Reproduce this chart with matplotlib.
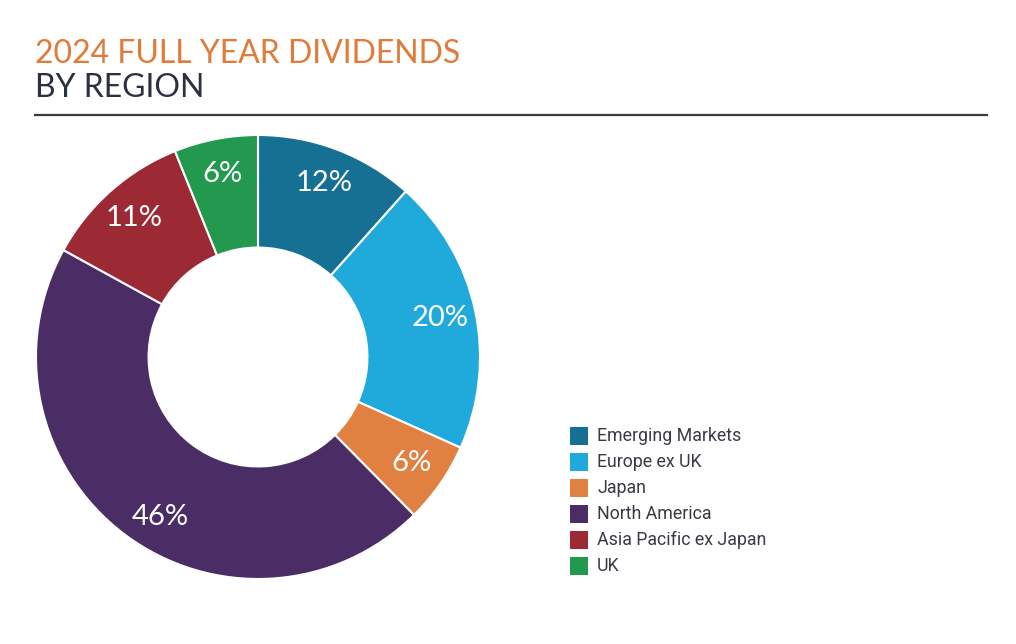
import matplotlib.pyplot as plt
from matplotlib.patches import Rectangle

regions = ["Emerging Markets", "Europe ex UK", "Japan", "North America",
           "Asia Pacific ex Japan", "UK"]
shares = [11.6, 20.1, 5.9, 45.4, 10.9, 6.1]
share_labels = ["12%", "20%", "6%", "46%", "11%", "6%"]
colors = ["#167093", "#20aadc", "#e08142", "#4b2d66", "#9b2a35", "#22994f"]

W, H = 1016, 644
fig = plt.figure(figsize=(W / 100, H / 100), dpi=100)
fig.patch.set_facecolor("white")

# ---------------- title ----------------
fig.text(35 / W, 1 - 63 / H, "2024 FULL YEAR DIVIDENDS", color="#e07b39",
         fontsize=23, family="Lato", va="baseline", ha="left")
fig.text(35 / W, 1 - 97 / H, "BY REGION", color="#2b3140",
         fontsize=23, family="Lato", va="baseline", ha="left")
fig.add_artist(plt.Line2D([35 / W, 987 / W], [1 - 115 / H, 1 - 115 / H],
                          color="#3a3a45", lw=1.6))

# ---------------- donut ----------------
cx, cy, R = 258, 357, 222
ax = fig.add_axes([(cx - R) / W, (H - cy - R) / H, 2 * R / W, 2 * R / H])
wedges, texts = ax.pie(shares, colors=colors, startangle=90, counterclock=False,
                       radius=1.0, labels=share_labels, labeldistance=0.84,
                       wedgeprops=dict(width=0.507, edgecolor="white", linewidth=1.5),
                       textprops=dict(color="white", fontsize=21, family="Lato"))
for t in texts:
    t.set_ha("center")
    t.set_va("center")
# the big slice's label sits lower-left of its mid angle in the original
texts[3].set_position((-0.44, -0.72))
ax.set_xlim(-1, 1)
ax.set_ylim(-1, 1)
ax.set_aspect("equal")
ax.axis("off")

# ---------------- legend ----------------
y0 = 436
for i, (name, c) in enumerate(zip(regions, colors)):
    yc = y0 + i * 26
    fig.add_artist(Rectangle((570 / W, 1 - (yc + 9) / H), 18 / W, 18 / H,
                             transform=fig.transFigure, color=c, lw=0))
    fig.text(597 / W, 1 - yc / H, name, color="#3a3a45", fontsize=12.8,
             family="Roboto", va="center", ha="left")

fig.savefig("out.png", dpi=100)
